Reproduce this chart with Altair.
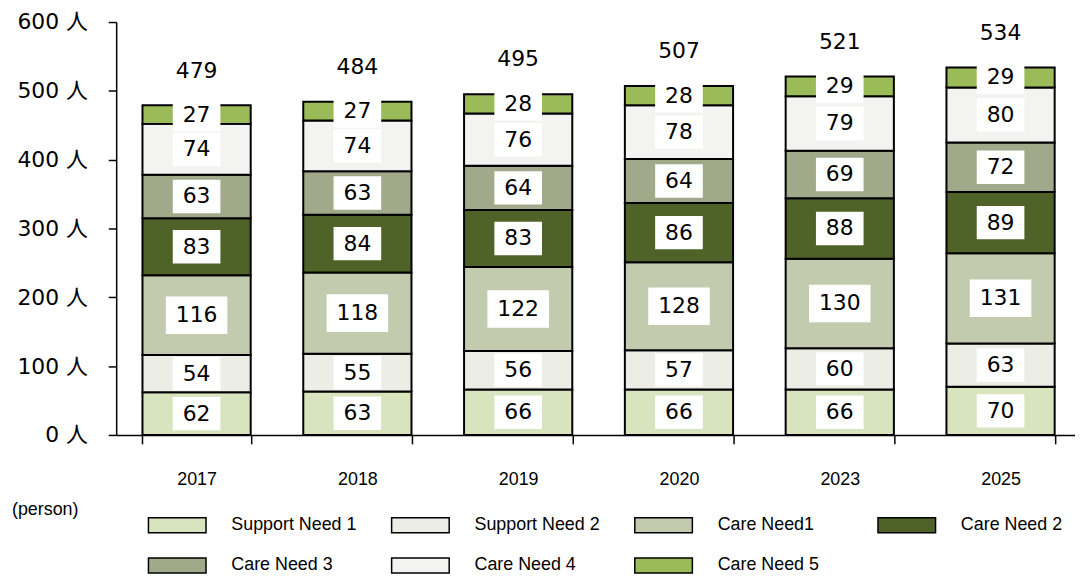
import altair as alt
import pandas as pd

years = ["2017", "2018", "2019", "2020", "2023", "2025"]
series = ["Support Need 1", "Support Need 2", "Care Need1", "Care Need 2",
          "Care Need 3", "Care Need 4", "Care Need 5"]
support_need_1 = [62, 63, 66, 66, 66, 70]
support_need_2 = [54, 55, 56, 57, 60, 63]
care_need_1 = [116, 118, 122, 128, 130, 131]
care_need_2 = [83, 84, 83, 86, 88, 89]
care_need_3 = [63, 63, 64, 64, 69, 72]
care_need_4 = [74, 74, 76, 78, 79, 80]
care_need_5 = [27, 27, 28, 28, 29, 29]
totals = [479, 484, 495, 507, 521, 534]
colors = ["#d7e4bd", "#eceee6", "#c3cbae", "#4f6228", "#a0aa8b", "#f3f3f1", "#9bbb59"]
y_ticks = [0, 100, 200, 300, 400, 500, 600]

values = [support_need_1, support_need_2, care_need_1, care_need_2,
          care_need_3, care_need_4, care_need_5]
rows = []
for yi, yr in enumerate(years):
    cum = 0
    for si, s in enumerate(series):
        v = values[si][yi]
        rows.append({"year": yr, "series": s, "order": si, "value": v,
                     "start": cum, "end": cum + v, "mid": cum + v / 2})
        cum += v
df = pd.DataFrame(rows)
tot_df = pd.DataFrame({"year": years, "total": totals})

FONT = "DejaVu Sans, Noto Sans CJK JP"
LEG_PATH = "M-2,-0.52L2,-0.52L2,0.52L-2,0.52Z"
BOX2 = "M-1,-0.7L1,-0.7L1,0.7L-1,0.7Z"
BOX3 = "M-1,-0.61L1,-0.61L1,0.61L-1,0.61Z"

x_enc = alt.X("year:N", sort=years, title=None,
              scale=alt.Scale(range=[0, 972], paddingInner=0.327, paddingOuter=0.1635),
              axis=alt.Axis(tickBand="extent", labelAngle=0, labelFont="Liberation Sans",
                            labelFontSize=18, labelColor="black", labelPadding=27,
                            tickSize=9, tickColor="black", tickWidth=1.5,
                            domainColor="black", domainWidth=1.5))
y_scale = alt.Scale(domain=[0, 600], nice=False, zero=True)

bars = alt.Chart(df).mark_bar(stroke="black", strokeWidth=2, opacity=1).encode(
    x=x_enc,
    y=alt.Y("start:Q", scale=y_scale, title=None,
            axis=alt.Axis(values=y_ticks, labelExpr="datum.value + ' 人'", grid=False,
                          labelFont=FONT, labelFontSize=22, labelColor="black",
                          labelPadding=21, tickSize=8, tickColor="black", tickWidth=1.5,
                          domainColor="black", domainWidth=1.5)),
    y2="end:Q",
    order=alt.Order("order:Q"),
    color=alt.Color("series:N", scale=alt.Scale(domain=series, range=colors),
                    legend=alt.Legend(orient="none", legendX=46, legendY=491, columns=4,
                                      direction="horizontal",
                                      title=None, symbolType=LEG_PATH, symbolSize=841,
                                      symbolStrokeColor="black", symbolStrokeWidth=1.5,
                                      symbolOpacity=1, labelFont="Liberation Sans",
                                      labelFontSize=18, labelColor="black", labelOffset=39,
                                      columnPadding=31, rowPadding=14, gridAlign="all",
                                      padding=0, labelLimit=300)),
)

box_small = alt.Chart(df).transform_filter("datum.value < 100").mark_point(
    shape=BOX2, size=2304, filled=True, fill="white", opacity=1, strokeWidth=0
).encode(x=alt.X("year:N", sort=years), y=alt.Y("mid:Q", scale=y_scale))

box_big = alt.Chart(df).transform_filter("datum.value >= 100").mark_point(
    shape=BOX3, size=3844, filled=True, fill="white", opacity=1, strokeWidth=0
).encode(x=alt.X("year:N", sort=years), y=alt.Y("mid:Q", scale=y_scale))

labels = alt.Chart(df).mark_text(font=FONT, fontSize=22, color="black",
                                 baseline="middle").encode(
    x=alt.X("year:N", sort=years), y=alt.Y("mid:Q", scale=y_scale), text="value:Q")

tot = alt.Chart(tot_df).mark_text(font=FONT, fontSize=22, color="black",
                                  baseline="middle", dy=-35).encode(
    x=alt.X("year:N", sort=years), y=alt.Y("total:Q", scale=y_scale), text="total:Q")

unit = alt.Chart(pd.DataFrame({"t": ["(person)"]})).mark_text(
    font="Liberation Sans", fontSize=18, color="black", align="left", baseline="middle"
).encode(x=alt.value(-105), y=alt.value(492), text="t:N")

chart = alt.layer(bars, box_small, box_big, labels, tot, unit).properties(
    width=966, height=416,
    autosize=alt.AutoSizeParams(type="none"),
    padding={"left": 109, "top": 12, "right": 0, "bottom": 142},
).configure_view(stroke=None)

chart.save("out.html", embed_options={"renderer": "svg", "actions": False})
